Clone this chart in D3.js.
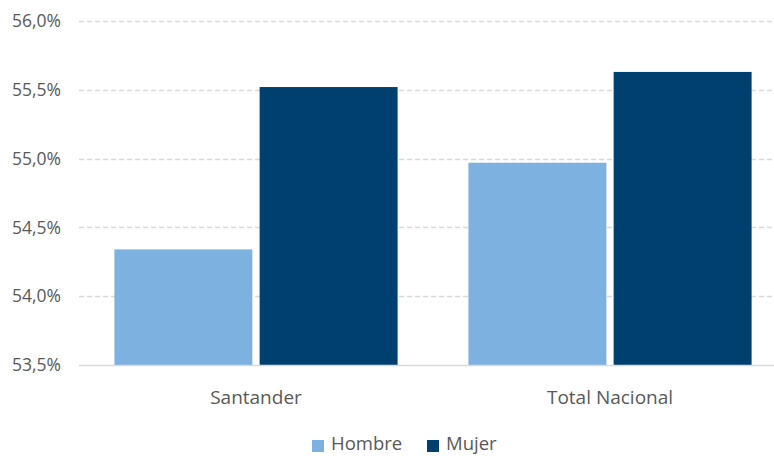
<!DOCTYPE html>
<html>
<head>
<meta charset="utf-8">
<script src="https://cdn.jsdelivr.net/npm/d3@7"></script>
<style>
  body { margin: 0; background: #fff; }
  text { font-family: "Open Sans", "Noto Sans", sans-serif; fill: #595959; }
</style>
</head>
<body>
<div id="chart"></div>
<script>
// data
var categories = ["Santander", "Total Nacional"];
var seriesNames = ["Hombre", "Mujer"];
var hombre = [54.34, 54.97];
var mujer = [55.52, 55.63];
var yTicks = [53.5, 54.0, 54.5, 55.0, 55.5, 56.0];
var colors = ["#7cb1e0", "#004071"];

var width = 774, height = 456;
var margin = { top: 21, right: -13, bottom: 91, left: 79 };

var svg = d3.select("#chart").append("svg")
  .attr("width", width)
  .attr("height", height);

var x0 = d3.scaleBand()
  .domain(categories)
  .range([margin.left, width - margin.right])
  .paddingInner(0.2)
  .paddingOuter(0.1);

var x1 = d3.scaleBand()
  .domain(seriesNames)
  .range([0, x0.bandwidth()])
  .paddingInner(0.05);

var y = d3.scaleLinear()
  .domain([53.5, 56.0])
  .range([height - margin.bottom, margin.top]);

var fmt = d => d3.format(".1f")(d).replace(".", ",") + "%";

// gridlines
svg.append("g")
  .selectAll("line")
  .data(yTicks.slice(1))
  .join("line")
  .attr("x1", margin.left)
  .attr("x2", width)
  .attr("y1", d => Math.round(y(d)) + 0.5)
  .attr("y2", d => Math.round(y(d)) + 0.5)
  .attr("stroke", "#d9d9d9")
  .attr("stroke-width", 1.5)
  .attr("stroke-dasharray", "5,3");

// y labels
svg.append("g")
  .selectAll("text")
  .data(yTicks)
  .join("text")
  .attr("x", 61)
  .attr("y", d => y(d))
  .attr("dy", "0.35em")
  .attr("text-anchor", "end")
  .attr("font-size", "17.5px")
  .text(fmt);

// bars
var rows = categories.map((c, i) => ({ cat: c, vals: [hombre[i], mujer[i]] }));

svg.append("g")
  .selectAll("g")
  .data(rows)
  .join("g")
  .attr("transform", d => `translate(${x0(d.cat)},0)`)
  .selectAll("rect")
  .data(d => d.vals.map((v, j) => ({ name: seriesNames[j], v: v, c: colors[j] })))
  .join("rect")
  .attr("x", d => x1(d.name))
  .attr("width", x1.bandwidth())
  .attr("y", d => y(d.v))
  .attr("height", d => y(53.5) - y(d.v))
  .attr("fill", d => d.c);

// baseline
svg.append("line")
  .attr("x1", margin.left)
  .attr("x2", width)
  .attr("y1", y(53.5) + 0.5)
  .attr("y2", y(53.5) + 0.5)
  .attr("stroke", "#d9d9d9")
  .attr("stroke-width", 1.5);

// category labels
svg.append("g")
  .selectAll("text")
  .data(categories)
  .join("text")
  .attr("x", d => x0(d) + x0.bandwidth() / 2)
  .attr("y", 397)
  .attr("dy", "0.35em")
  .attr("text-anchor", "middle")
  .attr("font-size", "19px")
  .text(d => d);

// legend
var legend = svg.append("g");
var legendX = [312, 427];
seriesNames.forEach((s, i) => {
  legend.append("rect")
    .attr("x", legendX[i])
    .attr("y", 440)
    .attr("width", 12)
    .attr("height", 12)
    .attr("fill", colors[i]);
  legend.append("text")
    .attr("x", legendX[i] + 19)
    .attr("y", 444)
    .attr("dy", "0.35em")
    .attr("font-size", "18.5px")
    .text(s);
});
</script>
</body>
</html>
